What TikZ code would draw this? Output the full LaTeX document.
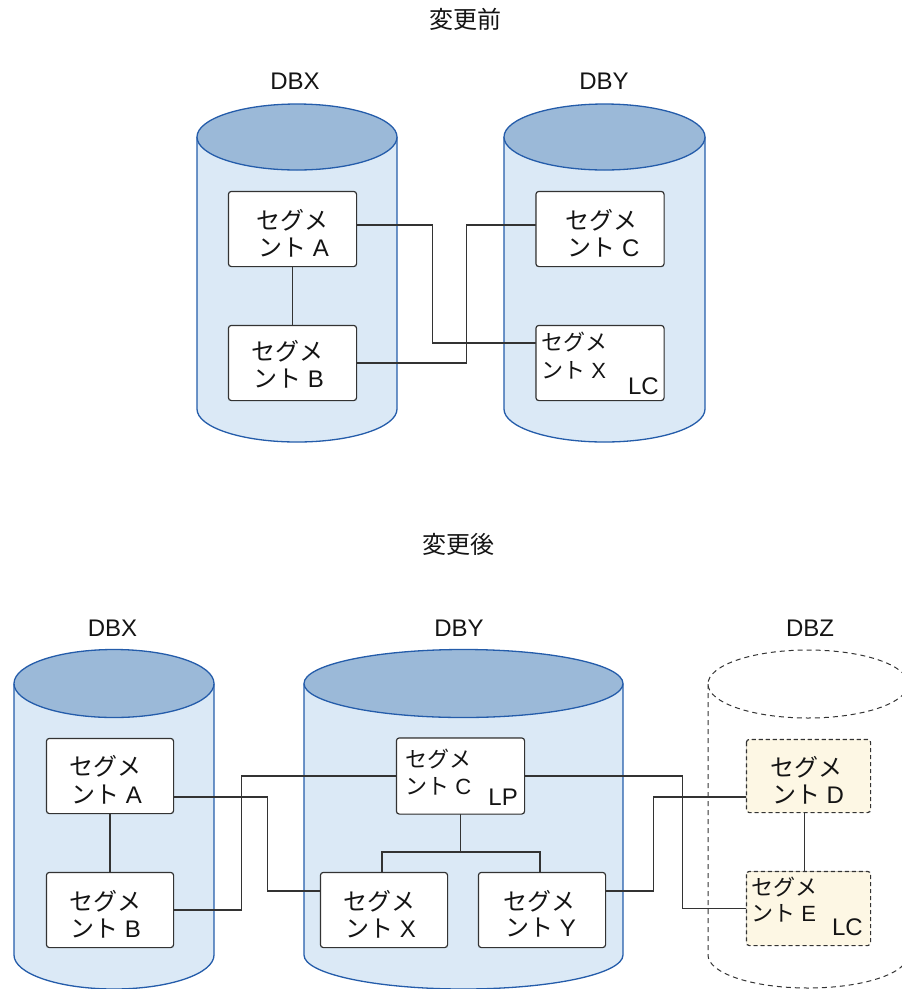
\documentclass[tikz,border=0pt]{standalone}
\usepackage{fontspec}
\setmainfont{Liberation Sans}
\newfontfamily\cjk{Noto Sans CJK JP}
\usetikzlibrary{calc}
\definecolor{cylbody}{RGB}{219,233,246}
\definecolor{cyltop}{RGB}{155,185,216}
\definecolor{cylline}{RGB}{36,92,170}
\definecolor{boxline}{RGB}{51,51,51}
\definecolor{newfill}{RGB}{253,247,228}
\definecolor{txt}{RGB}{20,20,20}
\tikzset{
  segbox/.style={draw=boxline, fill=white, line width=1.2pt, rounded corners=3pt, inner sep=0pt},
  newbox/.style={segbox, fill=newfill, dashed, dash pattern=on 4pt off 3pt},
  conn/.style={draw=boxline, line width=1.2pt},
  cyl/.style={draw=cylline, line width=1.3pt},
  lbl/.style={inner sep=0pt, text=txt, font=\fontsize{24pt}{28pt}\selectfont},
  slbl/.style={inner sep=0pt, text=txt, font=\fontsize{22pt}{26pt}\selectfont},
}
\newcommand\mycyl[5]{%
  \fill[cylbody] ({#1-#2},#3) rectangle ({#1+#2},#4);
  \fill[cylbody] (#1,#4) ellipse[x radius=#2pt, y radius=#5pt];
  \draw[cyl] ({#1-#2},#3) -- ({#1-#2},#4) arc[start angle=180, end angle=360, x radius=#2pt, y radius=#5pt] -- ({#1+#2},#3);
  \draw[cyl, fill=cyltop] (#1,#3) ellipse[x radius=#2pt, y radius=#5pt];
}
\begin{document}
\begin{tikzpicture}[x=1pt, y=-1pt]
\useasboundingbox (0,0) rectangle (902,989);

% ---------- titles ----------
\node[lbl] (t1) at (465,19) {\cjk 変更前};
\node[lbl] (t2) at (458.5,544) {\cjk 変更後};

% ---------- before ----------
\node[lbl] (dbx1) at (295,81.5) {DBX};
\node[lbl] (dby1) at (604,81.5) {DBY};
\mycyl{297}{100}{137}{409}{33}
\mycyl{604.5}{100.5}{137}{409}{33}

\node[segbox, minimum width=127pt, minimum height=74pt] (A1) at (292.5,229) {};
\node[segbox, minimum width=127pt, minimum height=74pt] (B1) at (292.5,363) {};
\node[segbox, minimum width=127pt, minimum height=74pt] (C1) at (600,229) {};
\node[segbox, minimum width=127pt, minimum height=74pt] (X1) at (600,363) {};

\begin{scope}[on background layer/.style={}]
\end{scope}

% ---------- after ----------
\node[lbl] (dbx2) at (112.5,628) {DBX};
\node[lbl] (dby2) at (459,628) {DBY};
\node[lbl] (dbz2) at (810,628) {DBZ};
\mycyl{114}{100}{683.5}{955}{34}
\mycyl{463.5}{159.5}{683.5}{955}{34}
% DBZ (planned, dashed)
\draw[boxline, line width=1pt, dash pattern=on 5pt off 4pt]
  (708,684) -- (708,955) arc[start angle=180, end angle=360, x radius=100pt, y radius=33pt] -- (908,684);
\draw[boxline, line width=1pt, dash pattern=on 5pt off 4pt] (808,684) ellipse[x radius=100pt, y radius=34pt];

\node[segbox, minimum width=126pt, minimum height=74pt] (A2) at (110,776) {};
\node[segbox, minimum width=126pt, minimum height=74pt] (B2) at (110,910) {};
\node[segbox, minimum width=127pt, minimum height=75pt] (C2) at (460.5,776) {};
\node[segbox, minimum width=126pt, minimum height=74pt] (X2) at (384,910) {};
\node[segbox, minimum width=126pt, minimum height=74pt] (Y2) at (542,910) {};
\node[newbox, minimum width=123pt, minimum height=72pt] (D2) at (808.5,776) {};
\node[newbox, minimum width=123pt, minimum height=73pt] (E2) at (808.5,908.5) {};

% ---------- connectors (before) ----------
\draw[conn] (A1.south) -- (B1.north);
\draw[conn] ([yshift=4pt]A1.east) -- ++(76,0) |- ([yshift=20pt]X1.west);
\draw[conn] (B1.east) -- ++(110,0) |- ([yshift=4pt]C1.west);

% ---------- connectors (after) ----------
\coordinate (j) at (460.5,852);
\draw[conn] (A2.south) -- (B2.north);
\draw[conn] ([yshift=-21pt]A2.east) -- ++(94,0) |- ([yshift=19pt]X2.west);
\draw[conn] (B2.east) -- ++(68,0) |- (C2.west);
\draw[conn] (C2.south) -- (j);
\draw[conn] ([xshift=-2pt]X2.north) |- (j);
\draw[conn] ([xshift=-2pt]Y2.north) |- (j);
\draw[conn] (C2.east) -- ++(158,0) |- (E2.west);
\draw[conn] ([yshift=19pt]Y2.east) -- ++(48,0) |- ([yshift=-21pt]D2.west);
\draw[conn] ([xshift=-4pt]D2.south) -- ([xshift=-4pt]E2.north);

% redraw boxes on top of connectors
\foreach \n in {A1,B1,C1,X1,A2,B2,C2,X2,Y2} {
  \draw[segbox] (\n.north west) rectangle (\n.south east);
}
\foreach \n in {D2,E2} {
  \draw[newbox] (\n.north west) rectangle (\n.south east);
}

% ---------- texts (before) ----------
\node[lbl] (a1l1) at (292.5,220) {\cjk セグメ};
\node[lbl] (a1l2) at (293.5,247.5) {{\cjk ント} A};
\node[lbl] (b1l1) at (287,351) {\cjk セグメ};
\node[lbl] (b1l2) at (288.5,379) {{\cjk ント} B};
\node[lbl] (c1l1) at (601.5,220) {\cjk セグメ};
\node[lbl] (c1l2) at (603.5,247.5) {{\cjk ント} C};
\node[slbl, anchor=west] (x1l1) at (541,342.5) {\cjk セグメ};
\node[slbl, anchor=west] (x1l2) at (541,370) {{\cjk ント} X};
\node[lbl, anchor=east] (x1lc) at (659,386.5) {LC};

% ---------- texts (after) ----------
\node[lbl] (a2l1) at (105.5,766.5) {\cjk セグメ};
\node[lbl] (a2l2) at (106.5,795) {{\cjk ント} A};
\node[lbl] (b2l1) at (105,901) {\cjk セグメ};
\node[lbl] (b2l2) at (105.5,928.5) {{\cjk ント} B};
\node[lbl] (x2l1) at (379,901) {\cjk セグメ};
\node[lbl] (x2l2) at (380.5,928.5) {{\cjk ント} X};
\node[lbl] (y2l1) at (539.5,901) {\cjk セグメ};
\node[lbl] (y2l2) at (540.5,928) {{\cjk ント} Y};
\node[slbl, anchor=west] (c2l1) at (405,759) {\cjk セグメ};
\node[slbl, anchor=west] (c2l2) at (405,786.5) {{\cjk ント} C};
\node[lbl, anchor=east] (c2lp) at (518,797.5) {LP};
\node[lbl] (d2l1) at (806,767.5) {\cjk セグメ};
\node[lbl] (d2l2) at (808,795) {{\cjk ント} D};
\node[slbl, anchor=west] (e2l1) at (751,887.5) {\cjk セグメ};
\node[slbl, anchor=west] (e2l2) at (751,913.5) {{\cjk ント} E};
\node[lbl, anchor=east] (e2lc) at (863,927.5) {LC};
\end{tikzpicture}
\end{document}
